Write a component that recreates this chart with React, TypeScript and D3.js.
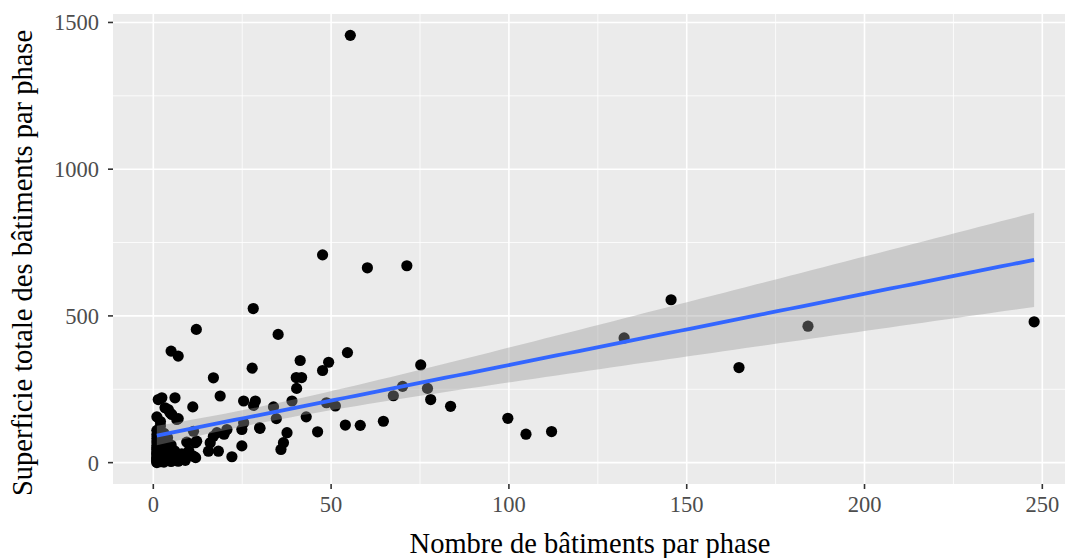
import React from "react";
import * as d3 from "d3";

// Number of buildings per phase (x) and total building area per phase (y)
const buildingCount: number[] = [
  55.4, 47.6, 60.2, 71.3, 28.1, 12.1, 35.1, 5, 7, 16.9, 27.8, 54.6, 49.3, 41.3, 40.2, 41.7, 47.6, 40.3,
  75.2, 70.1, 67.5, 77.1, 78, 83.6, 64.7, 58.2, 54,
  99.7, 104.8, 112, 132.4, 145.6, 164.7, 184.1, 247.7,
  25.4, 28.7, 28.2, 33.8, 39, 48.7, 51.2, 43, 34.6, 29.9, 25.4, 24.9, 46.2, 37.6, 36.6, 35.9, 24.9,
  18.8, 1.4, 2.4, 6.1, 11.1, 3.3, 4.2, 5.2, 7, 1, 4.7, 6.6,
  30, 20.7, 19.9, 17.9, 16.9, 11.3, 22.1, 16, 15.5, 18.3, 9.4, 11.8, 12.2, 11.9, 9.9, 7, 5.2, 5.6, 8.5, 11.3, 3.8,
  1, 1, 1, 1, 1, 1, 1, 1, 1, 1, 1,
  2, 2, 2, 2, 2, 2, 2, 2, 2, 2,
  3, 3, 3, 3, 3, 3,
  4, 4, 4, 4, 5, 5, 6, 6, 8, 9, 10,
  1, 1, 1, 1, 2, 2, 2, 3, 3, 4, 1, 2,
];
const totalArea: number[] = [
  1456, 708, 664, 671, 525, 454, 437, 380, 363, 289, 322, 375, 342, 348, 290, 290, 314, 253,
  333, 260, 228, 253, 215, 192, 141, 127, 128,
  151, 97, 106, 425, 555, 324, 465, 480,
  210, 210, 195, 190, 210, 204, 193, 156, 150, 119, 136, 113, 105, 102, 68, 45, 57,
  227, 215, 221, 221, 190, 187, 181, 164, 150, 156, 170, 147,
  117, 113, 97, 102, 90, 107, 20, 68, 39, 39, 70, 68, 73, 17, 28, 5, 22, 22, 17, 22, 56,
  3, 10, 18, 27, 36, 45, 58, 70, 82, 95, 110,
  6, 14, 24, 33, 50, 64, 77, 90, 125, 140,
  2, 12, 30, 44, 68, 100,
  8, 20, 38, 85, 4, 60, 12, 40, 30, 8, 40,
  0, 7, 15, 50, 3, 10, 20, 7, 22, 14, 30, 40,
];

const xTicks: number[] = [0, 50, 100, 150, 200, 250];
const xMinor: number[] = [25, 75, 125, 175, 225];
const yTicks: number[] = [0, 500, 1000, 1500];
const yMinor: number[] = [250, 750, 1250];

const xTitle = "Nombre de bâtiments par phase";
const yTitle = "Superficie totale des bâtiments par phase";

const W = 1065;
const H = 558;
const panel = { left: 113, top: 14, right: 1078, bottom: 484 };
const FONT = "'Liberation Serif', 'DejaVu Serif', serif";

function expand(ext: [number, number]): [number, number] {
  const d = (ext[1] - ext[0]) * 0.05;
  return [ext[0] - d, ext[1] + d];
}

export default function App() {
  const pts = buildingCount.map((x, i) => ({ x, y: totalArea[i] }));
  const xExt = d3.extent(buildingCount) as [number, number];
  const yExt = d3.extent(totalArea) as [number, number];
  const x = d3.scaleLinear().domain(expand(xExt)).range([panel.left, panel.right]);
  const y = d3.scaleLinear().domain(expand(yExt)).range([panel.bottom, panel.top]);

  // linear regression with 95% confidence band
  const n = pts.length;
  const mx = d3.mean(buildingCount)!;
  const my = d3.mean(totalArea)!;
  const sxx = d3.sum(buildingCount, (v) => (v - mx) ** 2);
  const sxy = d3.sum(pts, (p) => (p.x - mx) * (p.y - my));
  const slope = sxy / sxx;
  const intercept = my - slope * mx;
  const sse = d3.sum(pts, (p) => (p.y - (intercept + slope * p.x)) ** 2);
  const sigma = Math.sqrt(sse / (n - 2));
  const tq = 1.98;
  const grid = d3.range(80).map((i) => xExt[0] + ((xExt[1] - xExt[0]) * i) / 79);
  const band = grid.map((gx) => {
    const fit = intercept + slope * gx;
    const se = sigma * Math.sqrt(1 / n + (gx - mx) ** 2 / sxx);
    return { x: gx, fit, lo: fit - tq * se, hi: fit + tq * se };
  });
  const area = d3
    .area<{ x: number; lo: number; hi: number }>()
    .x((d) => x(d.x))
    .y0((d) => y(d.lo))
    .y1((d) => y(d.hi));
  const line = d3
    .line<{ x: number; fit: number }>()
    .x((d) => x(d.x))
    .y((d) => y(d.fit));

  return (
    <svg
      width={W}
      height={H}
      style={{ position: "fixed", left: 0, top: 0, background: "#fff" }}
      fontFamily={FONT}
    >
      <defs>
        <clipPath id="pc">
          <rect x={panel.left} y={panel.top} width={panel.right - panel.left} height={panel.bottom - panel.top} />
        </clipPath>
      </defs>
      <rect x={panel.left} y={panel.top} width={panel.right - panel.left} height={panel.bottom - panel.top} fill="#EBEBEB" />
      <g clipPath="url(#pc)">
        {xMinor.map((t) => (
          <line key={"xm" + t} x1={x(t)} x2={x(t)} y1={panel.top} y2={panel.bottom} stroke="#fff" strokeWidth={0.8} />
        ))}
        {yMinor.map((t) => (
          <line key={"ym" + t} y1={y(t)} y2={y(t)} x1={panel.left} x2={panel.right} stroke="#fff" strokeWidth={0.8} />
        ))}
        {xTicks.map((t) => (
          <line key={"xg" + t} x1={x(t)} x2={x(t)} y1={panel.top} y2={panel.bottom} stroke="#fff" strokeWidth={1.6} />
        ))}
        {yTicks.map((t) => (
          <line key={"yg" + t} y1={y(t)} y2={y(t)} x1={panel.left} x2={panel.right} stroke="#fff" strokeWidth={1.6} />
        ))}
        {pts.map((p, i) => (
          <circle key={i} cx={x(p.x)} cy={y(p.y)} r={5.6} fill="#000" />
        ))}
        <path d={area(band) || ""} fill="#999999" fillOpacity={0.4} />
        <path d={line(band) || ""} fill="none" stroke="#3366FF" strokeWidth={3.8} />
      </g>
      {/* x axis */}
      {xTicks.map((t) => (
        <g key={"xt" + t}>
          <line x1={x(t)} x2={x(t)} y1={panel.bottom} y2={panel.bottom + 5} stroke="#333" strokeWidth={1.6} />
          <text x={x(t)} y={panel.bottom + 28} textAnchor="middle" fontSize={22.5} fill="#4D4D4D">
            {t}
          </text>
        </g>
      ))}
      {yTicks.map((t) => (
        <g key={"yt" + t}>
          <line x1={panel.left - 5} x2={panel.left} y1={y(t)} y2={y(t)} stroke="#333" strokeWidth={1.6} />
          <text x={panel.left - 14} y={y(t)} dy="0.35em" textAnchor="end" fontSize={22.5} fill="#4D4D4D">
            {t}
          </text>
        </g>
      ))}
      <text x={590} y={553} textAnchor="middle" fontSize={28.5} fill="#000">
        {xTitle}
      </text>
      <text
        transform={`translate(32, ${(panel.top + panel.bottom) / 2 + 14}) rotate(-90)`}
        textAnchor="middle"
        fontSize={28.5}
        fill="#000"
      >
        {yTitle}
      </text>
    </svg>
  );
}
